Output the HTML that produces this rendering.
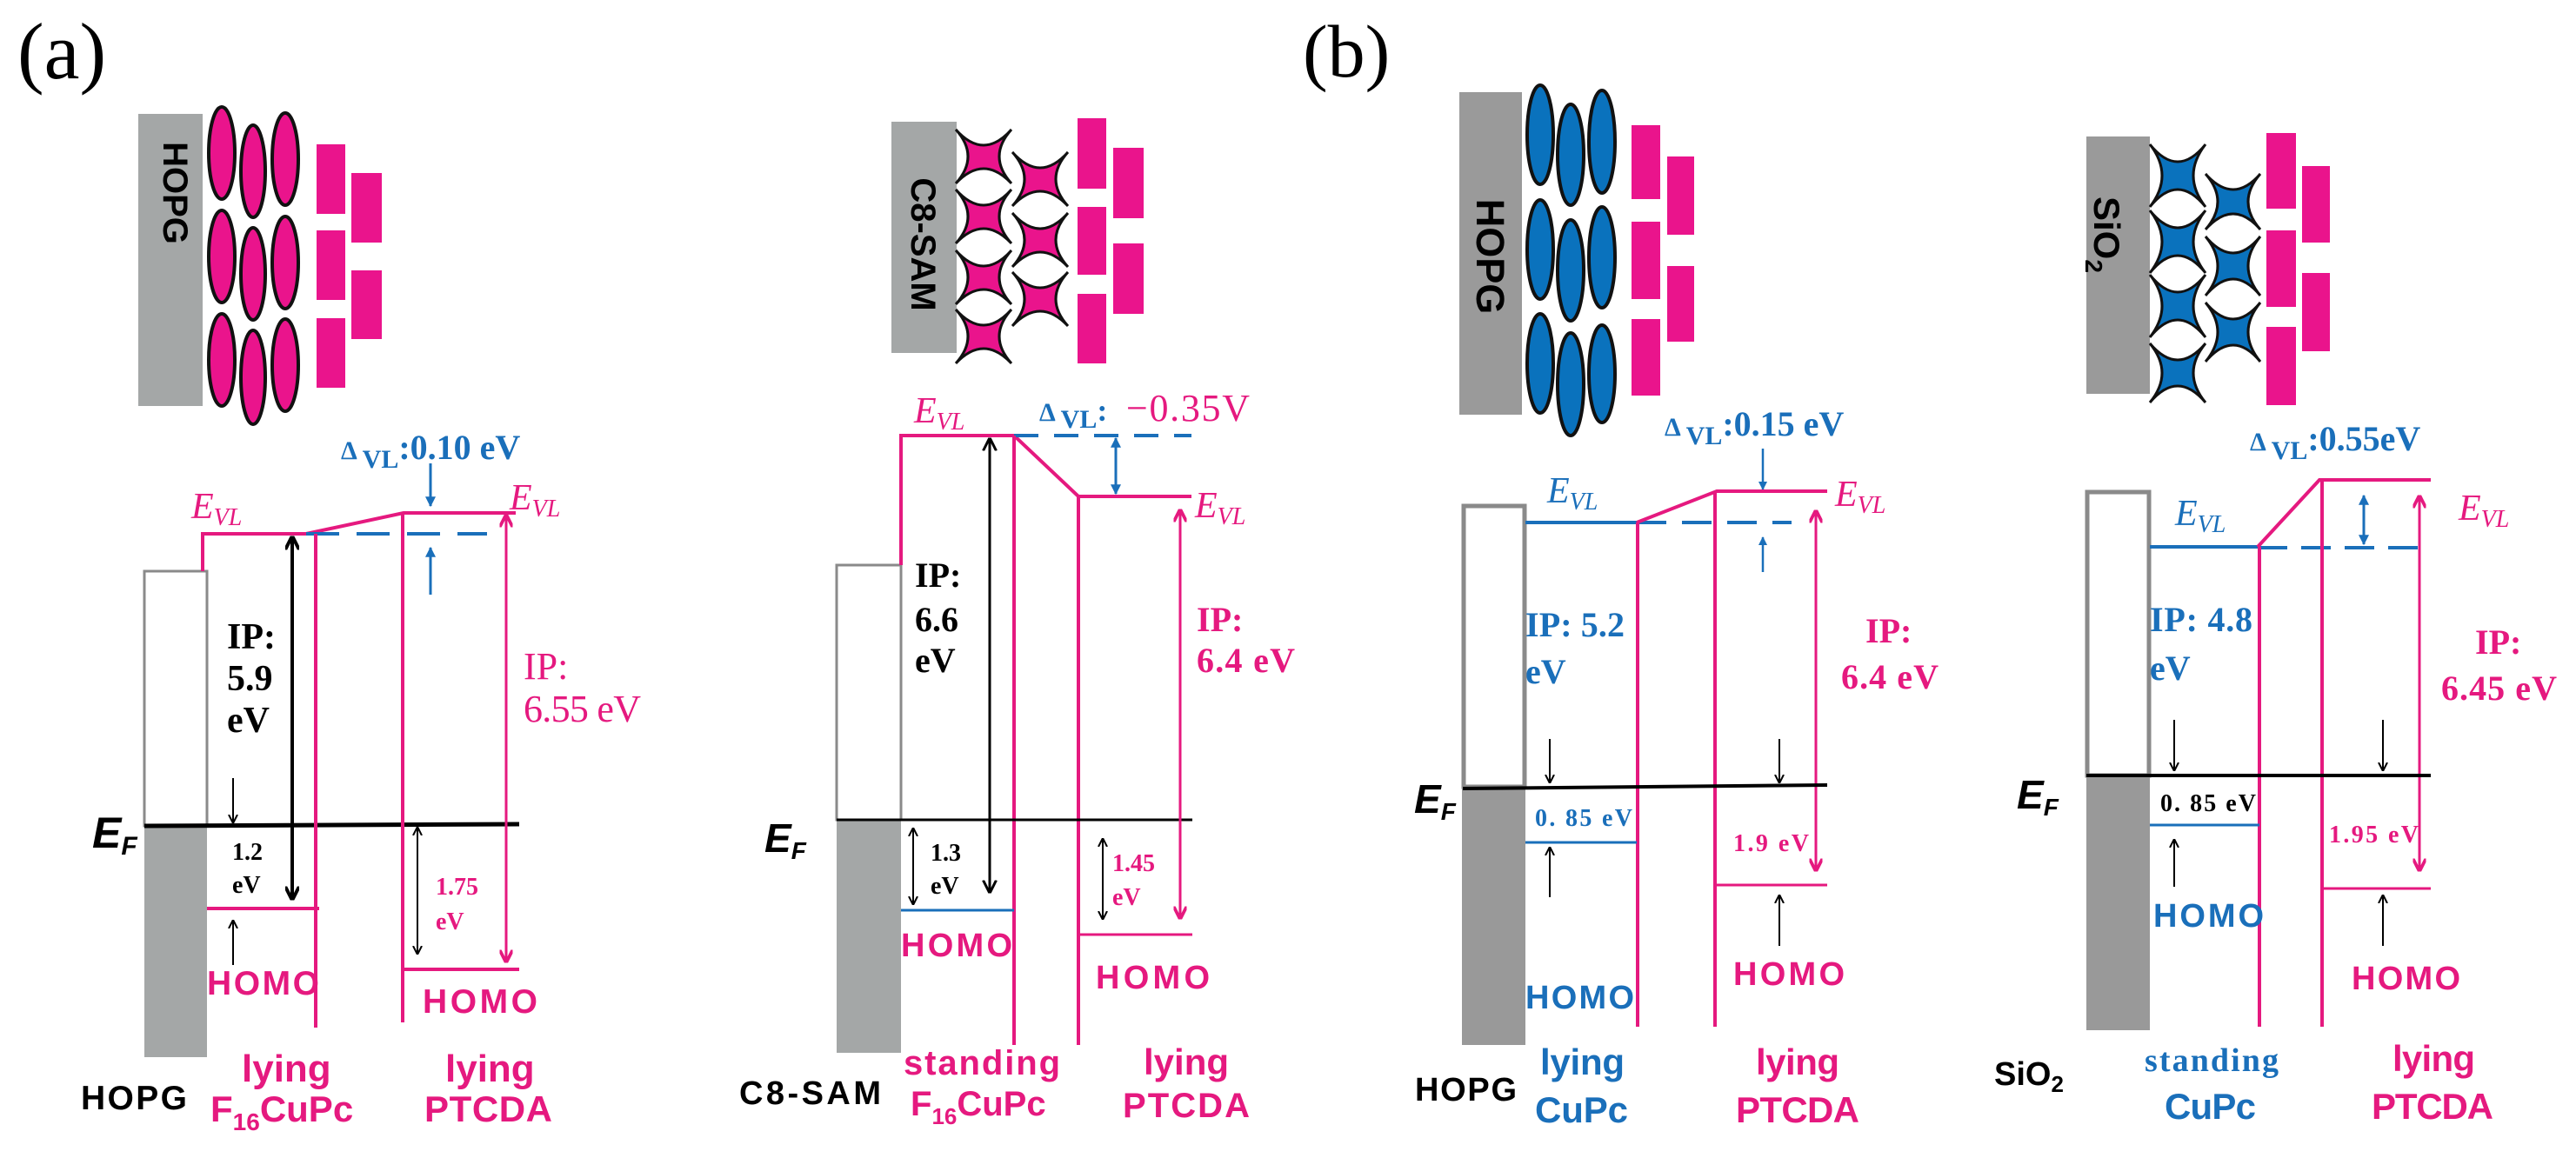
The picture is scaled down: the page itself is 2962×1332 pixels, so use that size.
<!DOCTYPE html>
<html><head><meta charset="utf-8"><style>
html,body{margin:0;padding:0;background:#fff;}
svg{display:block;}
.sb{font-family:"Liberation Sans",sans-serif;font-weight:bold;}
.se{font-family:"Liberation Serif",serif;font-weight:bold;}
.sr{font-family:"Liberation Serif",serif;}
.ev{font-family:"Liberation Serif",serif;font-style:italic;}
.ef{font-family:"Liberation Sans",sans-serif;font-style:italic;font-weight:bold;}
</style></head><body>
<svg width="2962" height="1332" viewBox="0 0 2962 1332" xmlns="http://www.w3.org/2000/svg">
<defs>
<marker id="ak" viewBox="0 0 10 10" refX="9" refY="5" markerWidth="5" markerHeight="6" orient="auto-start-reverse" markerUnits="strokeWidth"><path d="M0,0 L10,5 L0,10" fill="none" stroke="#000" stroke-width="2"/></marker>
<marker id="ak2" viewBox="0 0 10 10" refX="9" refY="5" markerWidth="4" markerHeight="4" orient="auto-start-reverse" markerUnits="strokeWidth"><path d="M0,0 L10,5 L0,10" fill="none" stroke="#000" stroke-width="2.5"/></marker>
<marker id="ap" viewBox="0 0 10 10" refX="9" refY="5" markerWidth="5" markerHeight="5" orient="auto-start-reverse" markerUnits="strokeWidth"><path d="M0,0 L10,5 L0,10" fill="none" stroke="#e5197f" stroke-width="2.5"/></marker>
<marker id="ab" viewBox="0 0 10 10" refX="9" refY="5" markerWidth="4" markerHeight="4" orient="auto-start-reverse" markerUnits="strokeWidth"><path d="M0,0 L10,5 L0,10 Z" fill="#1a6fba"/></marker>
</defs>

<!-- ================= PANEL (a) left ================= -->
<text x="20" y="90" class="sr" font-size="92">(a)</text>
<rect x="159" y="131" width="74" height="336" fill="#a4a7a7"/>
<text class="sb" font-size="40" transform="translate(188,222) rotate(90)" text-anchor="middle">HOPG</text>
<g fill="#ea148c" stroke="#111" stroke-width="4">
<ellipse cx="255" cy="176" rx="15" ry="53"/><ellipse cx="255" cy="295" rx="15" ry="53"/><ellipse cx="255" cy="414" rx="15" ry="53"/>
<ellipse cx="291" cy="197" rx="14" ry="53"/><ellipse cx="291" cy="315" rx="14" ry="53"/><ellipse cx="291" cy="434" rx="14" ry="54"/>
<ellipse cx="328" cy="183" rx="15" ry="53"/><ellipse cx="328" cy="302" rx="15" ry="53"/><ellipse cx="328" cy="420" rx="15" ry="53"/>
</g>
<g fill="#ea148c">
<rect x="364" y="166" width="33" height="80"/><rect x="364" y="265" width="33" height="80"/><rect x="364" y="366" width="33" height="80"/>
<rect x="404" y="199" width="35" height="80"/><rect x="404" y="311" width="35" height="79"/>
</g>
<text x="392" y="528" class="se" fill="#1a6fba" font-size="40"><tspan font-size="30">Δ</tspan><tspan font-size="30" dy="10"> VL</tspan><tspan dy="-10">:0.10 eV</tspan></text>
<line x1="495" y1="533" x2="495" y2="582" stroke="#1a6fba" stroke-width="3" marker-end="url(#ab)"/>
<line x1="495" y1="684" x2="495" y2="630" stroke="#1a6fba" stroke-width="3" marker-end="url(#ab)"/>
<text x="220" y="596" class="ev" fill="#e5197f" font-size="42">E<tspan font-size="28" dy="8">VL</tspan></text>
<text x="586" y="586" class="ev" fill="#e5197f" font-size="42">E<tspan font-size="28" dy="8">VL</tspan></text>
<rect x="166" y="657" width="72" height="293" fill="#fff" stroke="#8a8a8a" stroke-width="3"/>
<rect x="166" y="950" width="72" height="266" fill="#a4a7a7"/>
<path d="M233,657 L233,614 L352,614 L464,590 L593,590" fill="none" stroke="#e5197f" stroke-width="4"/>
<line x1="352" y1="614" x2="560" y2="614" stroke="#1a6fba" stroke-width="4" stroke-dasharray="38,20"/>
<line x1="166" y1="950" x2="597" y2="948" stroke="#000" stroke-width="5"/>
<text x="106" y="975" class="ef" font-size="50">E<tspan font-size="30" dy="8">F</tspan></text>
<line x1="336" y1="1034" x2="336" y2="618" stroke="#000" stroke-width="4" marker-start="url(#ak2)" marker-end="url(#ak2)"/>
<text x="261" y="746" class="se" font-size="42">IP:</text>
<text x="261" y="794" class="se" font-size="42">5.9</text>
<text x="261" y="842" class="se" font-size="42">eV</text>
<line x1="268" y1="895" x2="268" y2="946" stroke="#000" stroke-width="2" marker-end="url(#ak)"/>
<text x="267" y="989" class="se" font-size="28">1.2</text>
<text x="267" y="1027" class="se" font-size="28">eV</text>
<line x1="238" y1="1045" x2="367" y2="1045" stroke="#e5197f" stroke-width="4"/>
<line x1="268" y1="1110" x2="268" y2="1059" stroke="#000" stroke-width="2" marker-end="url(#ak)"/>
<text x="238" y="1144" class="sb" fill="#e5197f" font-size="39" textLength="129">HOMO</text>
<line x1="363" y1="614" x2="363" y2="1182" stroke="#e5197f" stroke-width="4"/>
<line x1="463" y1="590" x2="463" y2="1176" stroke="#e5197f" stroke-width="4"/>
<line x1="582" y1="1106" x2="582" y2="593" stroke="#e5197f" stroke-width="3" marker-start="url(#ap)" marker-end="url(#ap)"/>
<line x1="463" y1="1115" x2="597" y2="1115" stroke="#e5197f" stroke-width="4"/>
<text x="486" y="1165" class="sb" fill="#e5197f" font-size="39" textLength="132">HOMO</text>
<text x="602" y="781" class="sr" fill="#e5197f" font-size="44">IP:</text>
<text x="602" y="830" class="sr" fill="#e5197f" font-size="44" textLength="135">6.55 eV</text>
<line x1="480" y1="952" x2="480" y2="1097" stroke="#000" stroke-width="2" marker-start="url(#ak)" marker-end="url(#ak)"/>
<text x="501" y="1029" class="se" fill="#e5197f" font-size="28">1.75</text>
<text x="501" y="1069" class="se" fill="#e5197f" font-size="28">eV</text>
<text x="93" y="1276" class="sb" font-size="39" textLength="122">HOPG</text>
<text x="278" y="1244" class="sb" fill="#e5197f" font-size="44">lying</text>
<text x="242" y="1290" class="sb" fill="#e5197f" font-size="42">F<tspan font-size="28" dy="10">16</tspan><tspan dy="-10">CuPc</tspan></text>
<text x="512" y="1244" class="sb" fill="#e5197f" font-size="44">lying</text>
<text x="488" y="1290" class="sb" fill="#e5197f" font-size="42" textLength="147">PTCDA</text>

<!-- ================= PANEL (a) right ================= -->
<rect x="1025" y="140" width="75" height="266" fill="#a4a7a7"/>
<text class="sb" font-size="40" transform="translate(1048,281) rotate(90)" text-anchor="middle">C8-SAM</text>
<g fill="#ea148c" stroke="#111" stroke-width="3">
<path d="M0,0 Q32,36 64,0 Q36,31 64,62 Q32,28 0,62 Q28,31 0,0 Z" transform="translate(1099,149)"/>
<path d="M0,0 Q32,36 64,0 Q36,31 64,62 Q32,28 0,62 Q28,31 0,0 Z" transform="translate(1099,218)"/>
<path d="M0,0 Q32,36 64,0 Q36,31 64,62 Q32,28 0,62 Q28,31 0,0 Z" transform="translate(1099,288)"/>
<path d="M0,0 Q32,36 64,0 Q36,31 64,62 Q32,28 0,62 Q28,31 0,0 Z" transform="translate(1099,356)"/>
<path d="M0,0 Q32,36 64,0 Q36,31 64,62 Q32,28 0,62 Q28,31 0,0 Z" transform="translate(1164,175)"/>
<path d="M0,0 Q32,36 64,0 Q36,31 64,62 Q32,28 0,62 Q28,31 0,0 Z" transform="translate(1164,245)"/>
<path d="M0,0 Q32,36 64,0 Q36,31 64,62 Q32,28 0,62 Q28,31 0,0 Z" transform="translate(1164,313)"/>
</g>
<g fill="#ea148c">
<rect x="1239" y="136" width="33" height="81"/><rect x="1239" y="238" width="33" height="78"/><rect x="1239" y="338" width="33" height="80"/>
<rect x="1280" y="170" width="35" height="81"/><rect x="1280" y="280" width="35" height="81"/>
</g>
<text x="1051" y="486" class="ev" fill="#e5197f" font-size="42">E<tspan font-size="28" dy="8">VL</tspan></text>
<text x="1195" y="484" class="se" fill="#1a6fba" font-size="36"><tspan font-size="30">Δ</tspan><tspan font-size="30" dy="8"> VL</tspan><tspan dy="-8">: </tspan></text>
<text x="1295" y="484" class="sr" fill="#e5197f" font-size="44" textLength="142">−0.35V</text>
<rect x="962" y="650" width="74" height="293" fill="#fff" stroke="#8a8a8a" stroke-width="3"/>
<rect x="962" y="943" width="74" height="268" fill="#a4a7a7"/>
<path d="M1036,650 L1036,501 L1166,501 L1240,571 L1370,571" fill="none" stroke="#e5197f" stroke-width="4"/>
<line x1="1166" y1="501" x2="1370" y2="501" stroke="#1a6fba" stroke-width="4" stroke-dasharray="28,18"/>
<line x1="1283" y1="504" x2="1283" y2="568" stroke="#1a6fba" stroke-width="3" marker-start="url(#ab)" marker-end="url(#ab)"/>
<text x="1374" y="595" class="ev" fill="#e5197f" font-size="42">E<tspan font-size="28" dy="8">VL</tspan></text>
<line x1="1166" y1="501" x2="1166" y2="1202" stroke="#e5197f" stroke-width="4"/>
<line x1="1240" y1="571" x2="1240" y2="1202" stroke="#e5197f" stroke-width="4"/>
<line x1="962" y1="943" x2="1371" y2="943" stroke="#000" stroke-width="3"/>
<text x="879" y="980" class="ef" font-size="46">E<tspan font-size="28" dy="8">F</tspan></text>
<line x1="1138" y1="505" x2="1138" y2="1026" stroke="#000" stroke-width="3" marker-start="url(#ak)" marker-end="url(#ak)"/>
<text x="1052" y="675" class="se" font-size="40">IP:</text>
<text x="1052" y="726" class="se" font-size="40">6.6</text>
<text x="1052" y="773" class="se" font-size="40">eV</text>
<line x1="1036" y1="1047" x2="1166" y2="1047" stroke="#1a6fba" stroke-width="3"/>
<line x1="1050" y1="953" x2="1050" y2="1040" stroke="#000" stroke-width="2" marker-start="url(#ak)" marker-end="url(#ak)"/>
<text x="1070" y="990" class="se" font-size="28">1.3</text>
<text x="1070" y="1028" class="se" font-size="28">eV</text>
<text x="1036" y="1100" class="sb" fill="#e5197f" font-size="38" textLength="128">HOMO</text>
<line x1="1240" y1="1075" x2="1371" y2="1075" stroke="#e5197f" stroke-width="3"/>
<text x="1260" y="1137" class="sb" fill="#e5197f" font-size="38" textLength="131">HOMO</text>
<line x1="1357" y1="1056" x2="1357" y2="587" stroke="#e5197f" stroke-width="3" marker-start="url(#ap)" marker-end="url(#ap)"/>
<text x="1376" y="726" class="sr" fill="#e5197f" font-size="40" font-weight="bold">IP:</text>
<text x="1376" y="773" class="se" fill="#e5197f" font-size="40" textLength="113">6.4 eV</text>
<line x1="1268" y1="965" x2="1268" y2="1057" stroke="#000" stroke-width="2" marker-start="url(#ak)" marker-end="url(#ak)"/>
<text x="1279" y="1002" class="se" fill="#e5197f" font-size="28">1.45</text>
<text x="1279" y="1041" class="se" fill="#e5197f" font-size="28">eV</text>
<text x="850" y="1270" class="sb" font-size="38" textLength="163">C8-SAM</text>
<text x="1039" y="1236" class="sb" fill="#e5197f" font-size="40" textLength="180">standing</text>
<text x="1047" y="1283" class="sb" fill="#e5197f" font-size="40">F<tspan font-size="26" dy="10">16</tspan><tspan dy="-10">CuPc</tspan></text>
<text x="1315" y="1236" class="sb" fill="#e5197f" font-size="42">lying</text>
<text x="1291" y="1285" class="sb" fill="#e5197f" font-size="40" textLength="146">PTCDA</text>

<!-- ================= PANEL (b) left ================= -->
<text x="1498" y="88" class="sr" font-size="86">(b)</text>
<rect x="1678" y="106" width="72" height="371" fill="#9a9a9a"/>
<text class="sb" font-size="45" transform="translate(1698,295) rotate(90)" text-anchor="middle">HOPG</text>
<g fill="#0a72bd" stroke="#111" stroke-width="4">
<ellipse cx="1771" cy="155" rx="15" ry="57"/><ellipse cx="1771" cy="287" rx="15" ry="57"/><ellipse cx="1771" cy="418" rx="15" ry="57"/>
<ellipse cx="1806" cy="178" rx="15" ry="58"/><ellipse cx="1806" cy="311" rx="15" ry="58"/><ellipse cx="1806" cy="442" rx="15" ry="59"/>
<ellipse cx="1842" cy="163" rx="15" ry="59"/><ellipse cx="1842" cy="296" rx="15" ry="58"/><ellipse cx="1842" cy="430" rx="15" ry="56"/>
</g>
<g fill="#ea148c">
<rect x="1876" y="144" width="33" height="85"/><rect x="1876" y="255" width="33" height="89"/><rect x="1876" y="367" width="33" height="88"/>
<rect x="1917" y="180" width="31" height="90"/><rect x="1917" y="306" width="31" height="87"/>
</g>
<text x="1914" y="501" class="se" fill="#1a6fba" font-size="40"><tspan font-size="30">Δ</tspan><tspan font-size="30" dy="10"> VL</tspan><tspan dy="-10">:0.15 eV</tspan></text>
<line x1="2027" y1="516" x2="2027" y2="563" stroke="#1a6fba" stroke-width="2.5" marker-end="url(#ab)"/>
<line x1="2027" y1="658" x2="2027" y2="618" stroke="#1a6fba" stroke-width="2.5" marker-end="url(#ab)"/>
<text x="1779" y="578" class="ev" fill="#1a6fba" font-size="42">E<tspan font-size="28" dy="8">VL</tspan></text>
<text x="2110" y="582" class="ev" fill="#e5197f" font-size="42">E<tspan font-size="28" dy="8">VL</tspan></text>
<rect x="1683" y="582" width="70" height="323" fill="#fff" stroke="#8a8a8a" stroke-width="5"/>
<rect x="1681" y="905" width="73" height="297" fill="#999"/>
<line x1="1754" y1="601" x2="1882" y2="601" stroke="#1a6fba" stroke-width="4"/>
<line x1="1882" y1="601" x2="2060" y2="601" stroke="#1a6fba" stroke-width="4" stroke-dasharray="34,18"/>
<path d="M1882,601 L1974,565 L2101,565" fill="none" stroke="#e5197f" stroke-width="4"/>
<line x1="1883" y1="601" x2="1883" y2="1181" stroke="#e5197f" stroke-width="4"/>
<line x1="1972" y1="565" x2="1972" y2="1181" stroke="#e5197f" stroke-width="4"/>
<line x1="2088" y1="1001" x2="2088" y2="588" stroke="#e5197f" stroke-width="3" marker-start="url(#ap)" marker-end="url(#ap)"/>
<text x="1754" y="732" class="se" fill="#1a6fba" font-size="40" textLength="114">IP: 5.2</text>
<text x="1754" y="786" class="se" fill="#1a6fba" font-size="40">eV</text>
<text x="2145" y="739" class="se" fill="#e5197f" font-size="40">IP:</text>
<text x="2117" y="792" class="se" fill="#e5197f" font-size="40" textLength="112">6.4 eV</text>
<line x1="1682" y1="907" x2="2101" y2="903" stroke="#000" stroke-width="4"/>
<text x="1626" y="935" class="ef" font-size="46">E<tspan font-size="28" dy="8">F</tspan></text>
<line x1="1782" y1="850" x2="1782" y2="900" stroke="#000" stroke-width="2" marker-end="url(#ak)"/>
<line x1="2046" y1="850" x2="2046" y2="900" stroke="#000" stroke-width="2" marker-end="url(#ak)"/>
<text x="1765" y="950" class="se" fill="#1a6fba" font-size="28" textLength="112">0. 85 eV</text>
<line x1="1754" y1="969" x2="1882" y2="969" stroke="#1a6fba" stroke-width="3"/>
<line x1="1782" y1="1032" x2="1782" y2="975" stroke="#000" stroke-width="2" marker-end="url(#ak)"/>
<text x="1993" y="979" class="se" fill="#e5197f" font-size="28" textLength="87">1.9 eV</text>
<line x1="1972" y1="1018" x2="2101" y2="1018" stroke="#e5197f" stroke-width="3"/>
<line x1="2046" y1="1088" x2="2046" y2="1030" stroke="#000" stroke-width="2" marker-end="url(#ak)"/>
<text x="1993" y="1133" class="sb" fill="#e5197f" font-size="38" textLength="128">HOMO</text>
<text x="1754" y="1160" class="sb" fill="#1a6fba" font-size="38" textLength="125">HOMO</text>
<text x="1627" y="1266" class="sb" font-size="38" textLength="117">HOPG</text>
<text x="1771" y="1236" class="sb" fill="#1a6fba" font-size="42" textLength="97">lying</text>
<text x="1765" y="1291" class="sb" fill="#1a6fba" font-size="42" textLength="107">CuPc</text>
<text x="2019" y="1236" class="sb" fill="#e5197f" font-size="42" textLength="96">lying</text>
<text x="1996" y="1291" class="sb" fill="#e5197f" font-size="42" textLength="142">PTCDA</text>

<!-- ================= PANEL (b) right ================= -->
<rect x="2399" y="157" width="73" height="296" fill="#9a9a9a"/>
<text class="sb" font-size="42" transform="translate(2408,226) rotate(90)">SiO<tspan font-size="28" dy="10">2</tspan></text>
<g fill="#0a72bd" stroke="#111" stroke-width="3">
<path d="M0,0 Q32,40 64,0 Q36,36 64,72 Q32,32 0,72 Q28,36 0,0 Z" transform="translate(2472,166)"/>
<path d="M0,0 Q32,40 64,0 Q36,36 64,72 Q32,32 0,72 Q28,36 0,0 Z" transform="translate(2472,242)"/>
<path d="M0,0 Q32,40 64,0 Q36,36 64,72 Q32,32 0,72 Q28,36 0,0 Z" transform="translate(2472,316)"/>
<path d="M0,0 Q32,38 64,0 Q36,34 64,68 Q32,30 0,68 Q28,34 0,0 Z" transform="translate(2472,395)"/>
<path d="M0,0 Q32,36 63,0 Q35,32 63,64 Q32,28 0,64 Q28,32 0,0 Z" transform="translate(2536,200)"/>
<path d="M0,0 Q32,38 63,0 Q35,34 63,68 Q32,30 0,68 Q28,34 0,0 Z" transform="translate(2536,272)"/>
<path d="M0,0 Q32,38 63,0 Q35,34 63,68 Q32,30 0,68 Q28,34 0,0 Z" transform="translate(2536,348)"/>
</g>
<g fill="#ea148c">
<rect x="2606" y="153" width="34" height="87"/><rect x="2606" y="265" width="34" height="88"/><rect x="2606" y="376" width="34" height="90"/>
<rect x="2647" y="191" width="32" height="88"/><rect x="2647" y="314" width="32" height="90"/>
</g>
<text x="2587" y="518" class="se" fill="#1a6fba" font-size="40"><tspan font-size="30">Δ</tspan><tspan font-size="30" dy="10"> VL</tspan><tspan dy="-10">:0.55eV</tspan></text>
<text x="2501" y="604" class="ev" fill="#1a6fba" font-size="42">E<tspan font-size="28" dy="8">VL</tspan></text>
<text x="2827" y="598" class="ev" fill="#e5197f" font-size="42">E<tspan font-size="28" dy="8">VL</tspan></text>
<rect x="2400" y="566" width="71" height="326" fill="#fff" stroke="#8a8a8a" stroke-width="5"/>
<rect x="2399" y="892" width="73" height="293" fill="#999"/>
<line x1="2472" y1="629" x2="2596" y2="629" stroke="#1a6fba" stroke-width="4"/>
<line x1="2596" y1="630" x2="2780" y2="630" stroke="#1a6fba" stroke-width="4" stroke-dasharray="34,16"/>
<path d="M2596,629 L2667,552 L2795,552" fill="none" stroke="#e5197f" stroke-width="4"/>
<line x1="2718" y1="570" x2="2718" y2="626" stroke="#1a6fba" stroke-width="3" marker-start="url(#ab)" marker-end="url(#ab)"/>
<line x1="2598" y1="629" x2="2598" y2="1181" stroke="#e5197f" stroke-width="4"/>
<line x1="2670" y1="552" x2="2670" y2="1181" stroke="#e5197f" stroke-width="4"/>
<line x1="2782" y1="1001" x2="2782" y2="571" stroke="#e5197f" stroke-width="3" marker-start="url(#ap)" marker-end="url(#ap)"/>
<text x="2472" y="726" class="se" fill="#1a6fba" font-size="40" textLength="118">IP: 4.8</text>
<text x="2472" y="782" class="se" fill="#1a6fba" font-size="40">eV</text>
<text x="2846" y="752" class="se" fill="#e5197f" font-size="40">IP:</text>
<text x="2807" y="805" class="se" fill="#e5197f" font-size="40" textLength="133">6.45 eV</text>
<line x1="2399" y1="892" x2="2795" y2="892" stroke="#000" stroke-width="4"/>
<text x="2319" y="930" class="ef" font-size="46">E<tspan font-size="28" dy="8">F</tspan></text>
<line x1="2500" y1="828" x2="2500" y2="886" stroke="#000" stroke-width="2" marker-end="url(#ak)"/>
<line x1="2740" y1="828" x2="2740" y2="886" stroke="#000" stroke-width="2" marker-end="url(#ak)"/>
<text x="2484" y="933" class="se" font-size="28" textLength="110">0. 85 eV</text>
<line x1="2472" y1="949" x2="2598" y2="949" stroke="#1a6fba" stroke-width="3"/>
<line x1="2500" y1="1020" x2="2500" y2="966" stroke="#000" stroke-width="2" marker-end="url(#ak)"/>
<text x="2476" y="1066" class="sb" fill="#1a6fba" font-size="38" textLength="127">HOMO</text>
<text x="2678" y="969" class="se" fill="#e5197f" font-size="28" textLength="103">1.95 eV</text>
<line x1="2670" y1="1022" x2="2795" y2="1022" stroke="#e5197f" stroke-width="3"/>
<line x1="2740" y1="1088" x2="2740" y2="1030" stroke="#000" stroke-width="2" marker-end="url(#ak)"/>
<text x="2704" y="1138" class="sb" fill="#e5197f" font-size="38" textLength="125">HOMO</text>
<text x="2293" y="1248" class="sb" font-size="38">SiO<tspan font-size="26" dy="8">2</tspan></text>
<text x="2466" y="1232" class="se" fill="#1a6fba" font-size="38" textLength="154">standing</text>
<text x="2489" y="1287" class="sb" fill="#1a6fba" font-size="42" textLength="105">CuPc</text>
<text x="2751" y="1232" class="sb" fill="#e5197f" font-size="42" textLength="95">lying</text>
<text x="2727" y="1287" class="sb" fill="#e5197f" font-size="42" textLength="140">PTCDA</text>
</svg>
</body></html>
